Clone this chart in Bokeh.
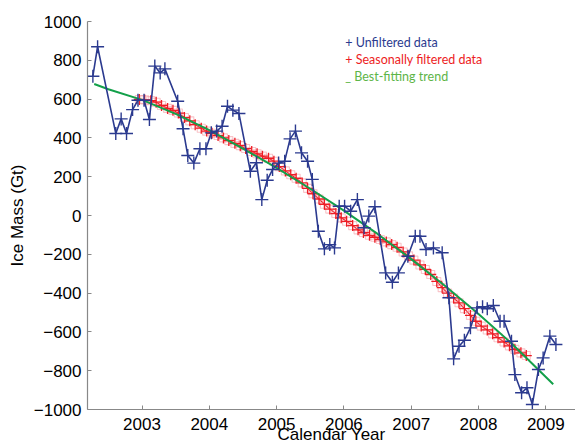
from bokeh.plotting import figure
from bokeh.models import Range1d, FixedTicker, Label
from bokeh.embed import file_html
from bokeh.resources import INLINE

# ---- data ----
blue_years = [2002.27, 2002.34, 2002.61, 2002.69, 2002.77, 2002.86, 2002.94, 2003.03, 2003.11,
              2003.19, 2003.27, 2003.34, 2003.53, 2003.61, 2003.68, 2003.77, 2003.86, 2003.95,
              2004.03, 2004.11, 2004.19, 2004.27, 2004.35, 2004.44, 2004.61, 2004.70, 2004.78,
              2004.86, 2004.94, 2005.03, 2005.12, 2005.20, 2005.28, 2005.37, 2005.46, 2005.53,
              2005.62, 2005.71, 2005.79, 2005.86, 2005.93, 2006.01, 2006.10, 2006.20, 2006.30,
              2006.37, 2006.46, 2006.62, 2006.72, 2006.81, 2006.95, 2007.06, 2007.13, 2007.22,
              2007.33, 2007.46, 2007.56, 2007.63, 2007.71, 2007.79, 2007.88, 2007.98, 2008.06,
              2008.13, 2008.22, 2008.32, 2008.38, 2008.49, 2008.54, 2008.64, 2008.72, 2008.80,
              2008.89, 2008.96, 2009.06, 2009.15]
blue_vals = [718, 870, 423, 498, 423, 546, 594, 594, 495,
             770, 735, 756, 589, 447, 309, 270, 344, 344,
             426, 435, 460, 563, 543, 526, 228, 272, 82,
             182, 237, 270, 280, 395, 435, 323, 280, 186,
             -81, -172, -150, -167, 48, 48, 22, 82, -63,
             -3, 45, -296, -344, -296, -210, -107, -107, -175,
             -167, -192, -424, -739, -674, -643, -579, -476, -470,
             -481, -464, -545, -545, -648, -820, -914, -888, -974,
             -794, -734, -622, -665]

red_years = [2002.96, 2003.04, 2003.13, 2003.21, 2003.29, 2003.38, 2003.46, 2003.54, 2003.63, 2003.71,
             2003.79, 2003.88, 2003.96, 2004.04, 2004.13, 2004.21, 2004.29, 2004.38, 2004.46, 2004.54,
             2004.63, 2004.71, 2004.79, 2004.88, 2004.96, 2005.04, 2005.13, 2005.21, 2005.29, 2005.38,
             2005.46, 2005.54, 2005.63, 2005.71, 2005.79, 2005.88, 2005.96, 2006.04, 2006.13, 2006.21,
             2006.29, 2006.38, 2006.46, 2006.54, 2006.63, 2006.71, 2006.79, 2006.88, 2006.96, 2007.04,
             2007.13, 2007.21, 2007.29, 2007.38, 2007.46, 2007.54, 2007.63, 2007.71, 2007.79, 2007.88,
             2007.96, 2008.04, 2008.13, 2008.21, 2008.29, 2008.38, 2008.46, 2008.54, 2008.63, 2008.71]
red_vals = [598, 596, 592, 584, 567, 552, 542, 528, 505, 488,
            468, 450, 435, 424, 412, 400, 386, 372, 360, 345,
            330, 318, 306, 295, 280, 252, 230, 210, 192, 168,
            140, 112, 85, 58, 33, 10, -12, -30, -52, -74,
            -88, -102, -112, -124, -136, -150, -164, -188, -208, -230,
            -255, -278, -304, -340, -372, -400, -425, -450, -480, -515,
            -545, -570, -590, -610, -630, -652, -672, -690, -708, -722]

trend_years = [2002.29, 2002.5, 2003.0, 2003.5, 2004.0, 2004.5, 2005.0, 2005.5, 2006.0,
               2006.5, 2007.0, 2007.5, 2008.0, 2008.5, 2009.11]
trend_vals = [678, 651, 596, 524, 440, 345, 245, 138, 25,
              -95, -225, -362, -508, -662, -870]

year_ticks = [2003, 2004, 2005, 2006, 2007, 2008, 2009]
mass_ticks = [-1000, -800, -600, -400, -200, 0, 200, 400, 600, 800, 1000]
legend_texts = ["+ Unfiltered data", "+ Seasonally filtered data", "_ Best-fitting trend"]

BLUE = "#2B3A8F"
RED = "#ED1C24"
GREEN = "#13A04A"
FONT = "Liberation Sans"

p = figure(width=575, height=446, output_backend="svg", toolbar_location=None,
           x_range=Range1d(2002.19, 2009.441), y_range=Range1d(-1000, 1000),
           min_border_left=87, min_border_right=0, min_border_top=21, min_border_bottom=37)
p.outline_line_color = None
p.xgrid.visible = False
p.ygrid.visible = False
p.background_fill_color = "white"

# red seasonally filtered
p.line(red_years, red_vals, line_color=RED, line_width=1.2)
p.scatter(red_years, red_vals, marker="square", size=8, fill_color=None,
          line_color="#F48A93", line_alpha=0.5, line_width=1.1)
p.scatter(red_years, red_vals, marker="cross", size=11, line_color=RED, line_width=1.3)

# green trend
p.line(trend_years, trend_vals, line_color=GREEN, line_width=2)

# blue unfiltered
p.line(blue_years, blue_vals, line_color=BLUE, line_width=1.6)
p.scatter(blue_years, blue_vals, marker="cross", size=13, line_color=BLUE, line_width=1.4)

# axes
for ax in (p.xaxis[0], p.yaxis[0]):
    ax.axis_line_color = "#888888"
    ax.axis_line_width = 1.2
    ax.major_tick_line_color = "#888888"
    ax.major_tick_in = 4
    ax.major_tick_out = 0
    ax.minor_tick_line_color = None
    ax.major_label_text_font = FONT
    ax.major_label_text_font_size = "17px"
    ax.major_label_text_color = "black"
    ax.axis_label_text_font = FONT
    ax.axis_label_text_font_size = "17px"
    ax.axis_label_text_font_style = "normal"
    ax.axis_label_text_color = "black"

p.xaxis.ticker = FixedTicker(ticks=year_ticks)
p.xaxis.major_label_standoff = 8
p.xaxis.axis_label = "Calendar Year"
p.xaxis.axis_label_standoff = -8

p.yaxis.ticker = FixedTicker(ticks=mass_ticks)
p.yaxis.major_label_overrides = {t: str(t).replace("-", "\u2212") for t in mass_ticks}
p.yaxis.major_label_standoff = 6
p.yaxis.axis_label = "Ice Mass (Gt)"
p.yaxis.axis_label_standoff = 4

legend_colors = [BLUE, RED, "#5DB548"]
legend_y = [892, 804, 716]
for t, c, yy in zip(legend_texts, legend_colors, legend_y):
    p.add_layout(Label(x=2006.02, y=yy, text=t, text_font="Lato", text_font_size="12.5px",
                       text_color=c, text_baseline="middle", text_align="left"))

open("out.html", "w").write(file_html(p, INLINE))
